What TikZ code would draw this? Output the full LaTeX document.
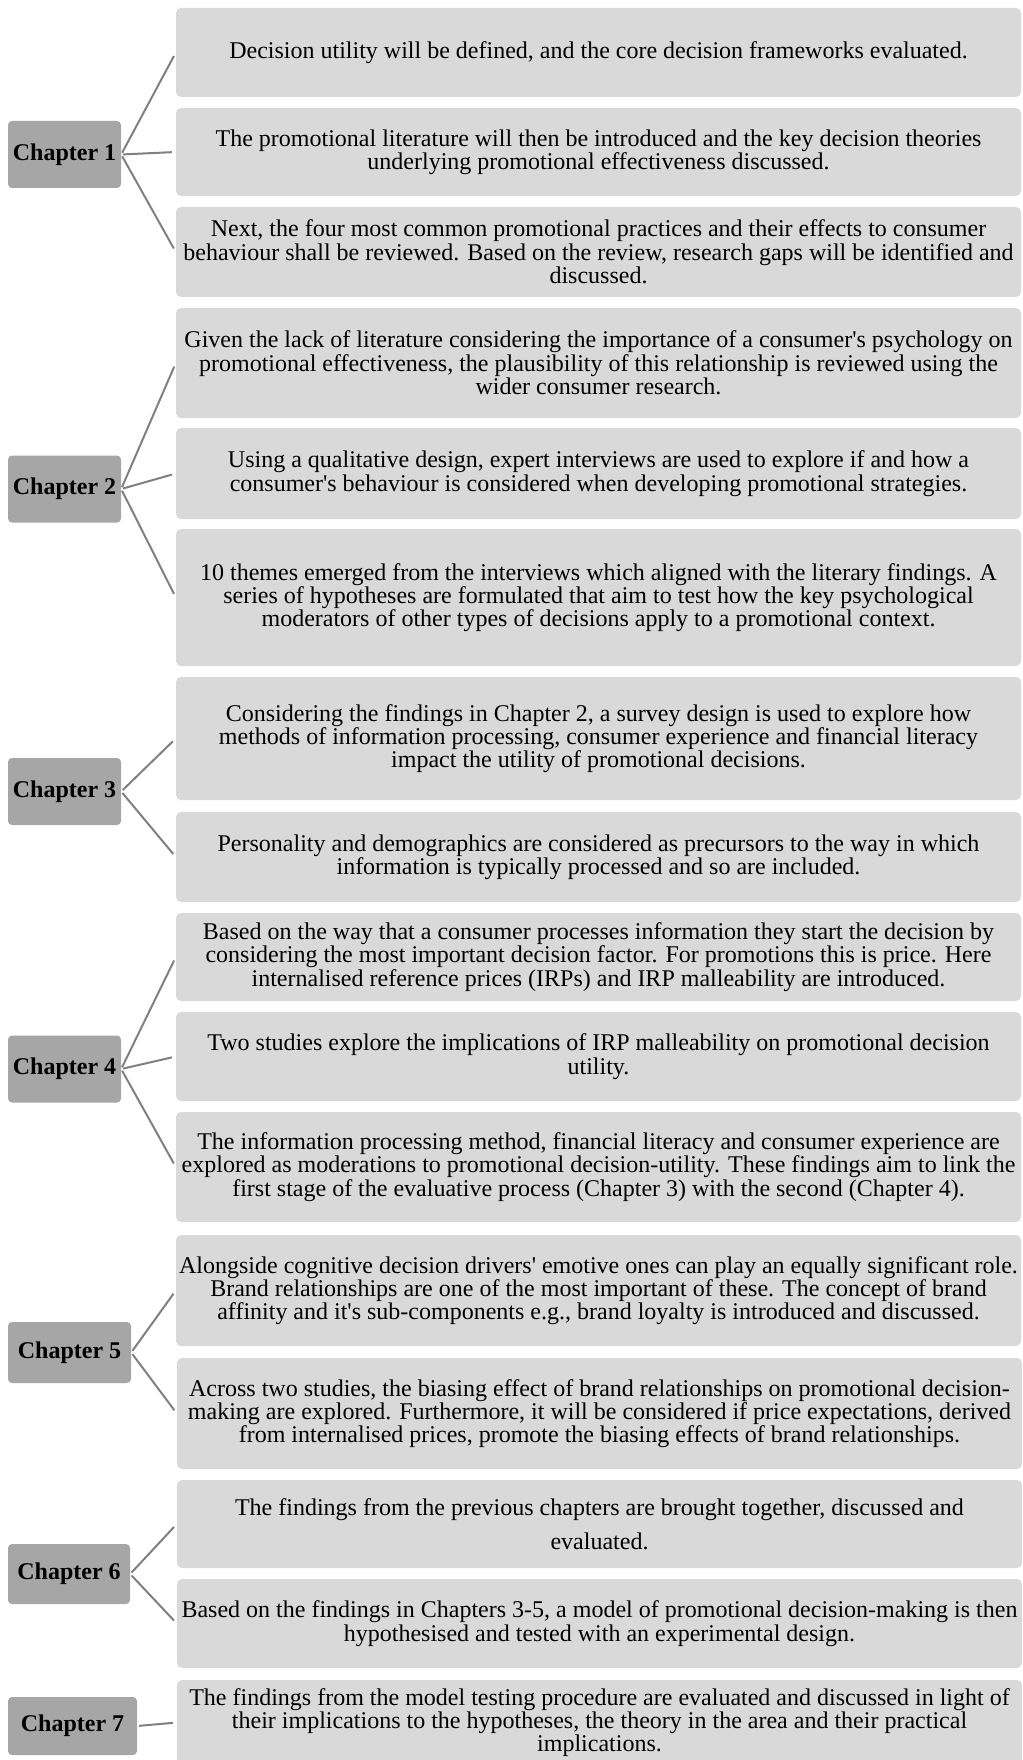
\documentclass[tikz,border=0pt]{standalone}
\usepackage{fontspec}
\setmainfont{Liberation Serif}[Ligatures=TeXOff]
\definecolor{chapgray}{HTML}{A6A6A6}
\definecolor{boxgray}{HTML}{D9D9D9}
\definecolor{linkgray}{HTML}{808080}
\tikzset{
  chapbox/.style={fill=chapgray, rounded corners=4pt, minimum width=113pt,
    minimum height=67pt, inner sep=0pt, font=\fontsize{24}{24}\selectfont\bfseries},
  infobox/.style={fill=boxgray, rounded corners=5pt, minimum width=845pt,
    align=center, inner sep=0pt, font=\fontsize{24}{23.3}\selectfont},
  link/.style={draw=linkgray, line width=2pt, shorten <=2pt, shorten >=4pt}
}
\begin{document}
\begin{tikzpicture}[x=1pt, y=-1pt]
    % Frame of the page
    \useasboundingbox (0,0) rectangle (1022,1760);
    \clip (0,0) rectangle (1022,1760);

    % Chapter 1
    \node[chapbox] (ch1) at (64.5,154.5) {Chapter 1};
    \node[infobox, minimum height=89pt] (t11) at (598.5,52.5)
        {Decision utility will be defined, and the core decision frameworks evaluated.};
    \node[infobox, minimum height=88pt] (t12) at (598.5,152)
        {The promotional literature will then be introduced and the key decision theories\\
         underlying promotional effectiveness discussed.};
    \node[infobox, minimum height=90pt] (t13) at (598.5,252)
        {Next, the four most common promotional practices and their effects to consumer\\
         behaviour shall be reviewed. Based on the review, research gaps will be identified and\\
         discussed.};
    \foreach \t in {t11,t12,t13}
        \draw[link] (ch1.east) -- (\t.west);

    % Chapter 2
    \node[chapbox] (ch2) at (64.5,489) {Chapter 2};
    \node[infobox, minimum height=110pt] (t21) at (598.5,363)
        {Given the lack of literature considering the importance of a consumer's psychology on\\
         promotional effectiveness, the plausibility of this relationship is reviewed using the\\
         wider consumer research.};
    \node[infobox, minimum height=91pt] (t22) at (598.5,473.5)
        {Using a qualitative design, expert interviews are used to explore if and how a\\
         consumer's behaviour is considered when developing promotional strategies.};
    \node[infobox, minimum height=137pt] (t23) at (598.5,597.5)
        {10 themes emerged from the interviews which aligned with the literary findings. A\\
         series of hypotheses are formulated that aim to test how the key psychological\\
         moderators of other types of decisions apply to a promotional context.};
    \foreach \t in {t21,t22,t23}
        \draw[link] (ch2.east) -- (\t.west);

    % Chapter 3
    \node[chapbox] (ch3) at (64.5,791.5) {Chapter 3};
    \node[infobox, minimum height=123pt] (t31) at (598.5,738.5)
        {Considering the findings in Chapter 2, a survey design is used to explore how\\
         methods of information processing, consumer experience and financial literacy\\
         impact the utility of promotional decisions.};
    \node[infobox, minimum height=90pt] (t32) at (598.5,857)
        {Personality and demographics are considered as precursors to the way in which\\
         information is typically processed and so are included.};
    \foreach \t in {t31,t32}
        \draw[link] (ch3.east) -- (\t.west);

    % Chapter 4
    \node[chapbox] (ch4) at (64.5,1069) {Chapter 4};
    \node[infobox, minimum height=88pt] (t41) at (598.5,957)
        {Based on the way that a consumer processes information they start the decision by\\
         considering the most important decision factor. For promotions this is price. Here\\
         internalised reference prices (IRPs) and IRP malleability are introduced.};
    \node[infobox, minimum height=89pt] (t42) at (598.5,1056.5)
        {Two studies explore the implications of IRP malleability on promotional decision\\
         utility.};
    \node[infobox, minimum height=110pt] (t43) at (598.5,1167)
        {The information processing method, financial literacy and consumer experience are\\
         explored as moderations to promotional decision-utility. These findings aim to link the\\
         first stage of the evaluative process (Chapter 3) with the second (Chapter 4).};
    \foreach \t in {t41,t42,t43}
        \draw[link] (ch4.east) -- (\t.west);

    % Chapter 5
    \node[chapbox, minimum width=123pt, minimum height=61pt] (ch5) at (69.5,1352.5) {Chapter 5};
    \node[infobox, minimum height=111pt] (t51) at (598.5,1290.5)
        {Alongside cognitive decision drivers' emotive ones can play an equally significant role.\\
         Brand relationships are one of the most important of these. The concept of brand\\
         affinity and it's sub-components e.g., brand loyalty is introduced and discussed.};
    \node[infobox, minimum height=111pt] (t52) at (599.5,1413.5)
        {Across two studies, the biasing effect of brand relationships on promotional decision-\\
         making are explored. Furthermore, it will be considered if price expectations, derived\\
         from internalised prices, promote the biasing effects of brand relationships.};
    \foreach \t in {t51,t52}
        \draw[link] (ch5.east) -- (\t.west);

    % Chapter 6
    \node[chapbox, minimum width=122pt, minimum height=60pt] (ch6) at (69,1574) {Chapter 6};
    \node[infobox, minimum height=88pt, font=\fontsize{24}{33.7}\selectfont] (t61) at (599.5,1524)
        {The findings from the previous chapters are brought together, discussed and\\
         evaluated.};
    \node[infobox, minimum height=89pt] (t62) at (599.5,1623.5)
        {Based on the findings in Chapters 3-5, a model of promotional decision-making is then\\
         hypothesised and tested with an experimental design.};
    \foreach \t in {t61,t62}
        \draw[link] (ch6.east) -- (\t.west);

    % Chapter 7
    \node[chapbox, minimum width=129pt, minimum height=58pt] (ch7) at (72.5,1726) {Chapter 7};
    \node[infobox, minimum height=85pt] (t71) at (599.5,1722.5)
        {The findings from the model testing procedure are evaluated and discussed in light of\\
         their implications to the hypotheses, the theory in the area and their practical\\
         implications.};
    \draw[link] (ch7.east) -- (t71.west);
\end{tikzpicture}
\end{document}
